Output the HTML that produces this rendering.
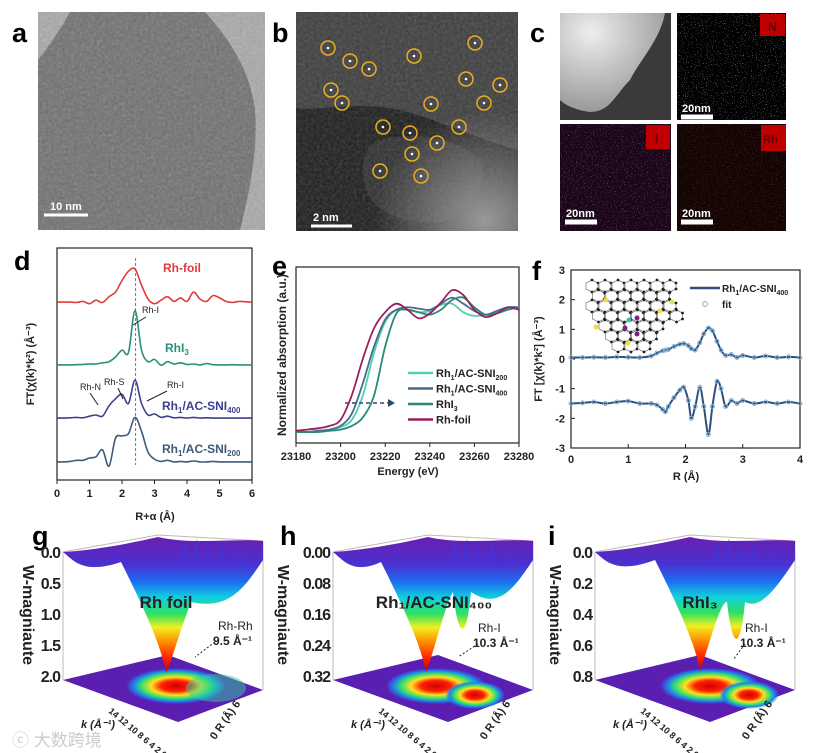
<!DOCTYPE html>
<html><head><meta charset="utf-8"><style>
html,body{margin:0;padding:0;background:#fff;}
svg{display:block;font-family:"Liberation Sans",Arial,sans-serif;}
.t{font-size:11px;font-weight:bold;fill:#222;}
.L{font-size:27px;font-weight:bold;fill:#000;}
</style></head><body>
<svg id="fig" width="814" height="753" viewBox="0 0 814 753" xmlns="http://www.w3.org/2000/svg">
<defs>
<filter id="noise" x="0" y="0" width="100%" height="100%"><feTurbulence type="fractalNoise" baseFrequency="0.35" numOctaves="2" seed="3"/><feColorMatrix type="saturate" values="0"/></filter>
<filter id="speck" x="0" y="0" width="100%" height="100%"><feTurbulence type="fractalNoise" baseFrequency="0.9" numOctaves="1" seed="7"/><feColorMatrix type="matrix" values="0 0 0 0 1  0 0 0 0 1  0 0 0 0 1  0 0 0 9 -5.6"/></filter>
<linearGradient id="rain" x1="0" y1="0" x2="0" y2="1">
<stop offset="0" stop-color="#6a1fb0"/><stop offset="0.2" stop-color="#4a30d0"/><stop offset="0.33" stop-color="#1e6cf0"/><stop offset="0.45" stop-color="#10d0e0"/><stop offset="0.57" stop-color="#30e060"/><stop offset="0.67" stop-color="#f0f020"/><stop offset="0.78" stop-color="#ff8a00"/><stop offset="0.9" stop-color="#ff2000"/><stop offset="1" stop-color="#c00000"/></linearGradient>
<radialGradient id="heat"><stop offset="0" stop-color="#d00000"/><stop offset="0.3" stop-color="#ff2000"/><stop offset="0.5" stop-color="#ffe020"/><stop offset="0.7" stop-color="#30e070"/><stop offset="0.85" stop-color="#2080f0"/><stop offset="1" stop-color="#2080f0" stop-opacity="0"/></radialGradient>
<radialGradient id="bglow" cx="0.85" cy="0.95" r="0.5"><stop offset="0" stop-color="#999"/><stop offset="1" stop-color="#999" stop-opacity="0"/></radialGradient>
<radialGradient id="cglow" cx="0.3" cy="0.2" r="0.8"><stop offset="0" stop-color="#eee"/><stop offset="0.6" stop-color="#bbb"/><stop offset="1" stop-color="#999"/></radialGradient>
</defs>

<!-- panel a -->
<g>
<rect x="38" y="12" width="227" height="218" fill="#a8a8a8"/>
<path d="M70,12 L205,12 C230,40 250,70 255,110 C258,150 250,190 240,230 L38,230 L38,60 C50,45 60,30 70,12Z" fill="#6e6e6e"/>
<rect x="38" y="12" width="227" height="218" filter="url(#noise)" opacity="0.35"/>
<line x1="44" y1="215" x2="88" y2="215" stroke="#fff" stroke-width="3"/>
<text x="50" y="210" style="font-size:11px;font-weight:bold;fill:#fff">10 nm</text>
</g>
<text class="L" x="12" y="42">a</text>

<!-- panel b -->
<g>
<rect x="296" y="12" width="222" height="219" fill="#1c1c1c"/>
<path d="M296,12 H518 V150 C480,140 440,120 400,110 C350,100 320,112 296,108Z" fill="#3c3c3c"/>
<path d="M380,140 C420,130 460,140 480,160 C490,190 470,215 440,222 C400,225 370,210 365,185 C360,160 365,145 380,140Z" fill="#2e2e2e"/>
<rect x="296" y="12" width="222" height="219" filter="url(#noise)" opacity="0.25"/>
<rect x="296" y="12" width="222" height="219" fill="url(#bglow)"/>
<line x1="311" y1="226" x2="352" y2="226" stroke="#fff" stroke-width="3"/>
<text x="313" y="221" style="font-size:11px;font-weight:bold;fill:#fff">2 nm</text>
<g id="circles" fill="none" stroke="#e8b020" stroke-width="1.5"></g>
</g>
<text class="L" x="272" y="42">b</text>

<!-- panel c -->
<g>
<rect x="560" y="13" width="111" height="107" fill="#3a3a3a"/>
<path d="M560,13 H665 C660,40 640,60 630,80 C615,95 610,112 590,112 C575,110 565,105 560,100Z" fill="url(#cglow)"/>
<rect x="677" y="13" width="109" height="107" fill="#000"/>
<rect x="677" y="13" width="109" height="107" filter="url(#speck)" opacity="0.45"/>
<rect x="760" y="14" width="25" height="22" fill="#c00000"/><text x="768" y="31" style="font-size:12px;font-weight:bold;fill:#600">N</text>
<line x1="681" y1="117" x2="713" y2="117" stroke="#fff" stroke-width="5"/><text x="682" y="112" style="font-size:11px;font-weight:bold;fill:#fff">20nm</text>
<rect x="560" y="124" width="111" height="107" fill="#000"/>
<rect x="560" y="124" width="111" height="107" filter="url(#speck)" opacity="0.35"/>
<rect x="560" y="124" width="111" height="107" fill="#b020b0" opacity="0.15"/>
<rect x="646" y="125" width="24" height="24" fill="#c00000"/><text x="655" y="143" style="font-size:12px;font-weight:bold;fill:#600">I</text>
<line x1="565" y1="222" x2="597" y2="222" stroke="#fff" stroke-width="5"/><text x="566" y="217" style="font-size:11px;font-weight:bold;fill:#fff">20nm</text>
<rect x="677" y="124" width="109" height="107" fill="#000"/>
<rect x="677" y="124" width="109" height="107" filter="url(#speck)" opacity="0.2"/>
<rect x="677" y="124" width="109" height="107" fill="#c03020" opacity="0.1"/>
<rect x="761" y="125" width="25" height="26" fill="#c00000"/><text x="763" y="143" style="font-size:11px;font-weight:bold;fill:#600">Rh</text>
<line x1="681" y1="222" x2="713" y2="222" stroke="#fff" stroke-width="5"/><text x="682" y="217" style="font-size:11px;font-weight:bold;fill:#fff">20nm</text>
</g>
<text class="L" x="530" y="42">c</text>

<text class="L" x="14" y="270">d</text>
<text class="L" x="272" y="275">e</text>
<text class="L" x="532" y="280">f</text>
<text class="L" x="32" y="545">g</text>
<text class="L" x="280" y="545">h</text>
<text class="L" x="548" y="545">i</text>

<g id="chartD"></g>
<g id="chartE"></g>
<g id="chartF"></g>
<g id="wt"></g>

<text x="12" y="746" style="font-size:17px;fill:#ccc;font-family:'Liberation Sans','Noto Sans CJK SC',sans-serif">ⓒ 大数跨境</text>
</svg>
<script>
const circleX=[328,350,369,414,475,331,342,466,500,431,484,383,459,410,437,412,380,421];
const circleY=[48,61,69,56,43,90,103,79,85,104,103,127,127,133,143,154,171,176];

const dR=[0,0.2,0.4,0.6,0.8,1,1.2,1.4,1.6,1.8,2,2.2,2.4,2.6,2.8,3,3.2,3.4,3.6,3.8,4,4.2,4.4,4.6,4.8,5,5.2,5.4,5.6,5.8,6];
const dFoil=[7.67,7.67,7.67,7.65,7.7,7.6,7.75,7.65,7.9,8.1,8.6,9.0,9.1,8.4,7.8,7.6,7.75,7.9,7.7,7.85,7.7,8.1,7.8,7.7,7.95,7.85,7.7,7.65,7.7,7.68,7.67];
const dRhI3=[4.96,4.96,4.96,4.97,4.98,5.0,5.0,5.05,5.1,5.3,5.6,5.5,7.3,5.6,5.1,5.2,4.95,5.1,5.0,5.05,4.98,5.0,4.96,5.02,4.97,4.96,4.96,4.97,4.96,4.96,4.96];
const dSNI400=[2.67,2.67,2.68,2.7,2.68,2.75,2.8,2.75,3.2,3.5,3.7,3.3,4.3,3.3,2.8,2.85,2.7,2.75,2.68,2.7,2.67,2.7,2.67,2.68,2.67,2.67,2.67,2.67,2.67,2.67,2.67];
const dSNI200=[0.78,0.78,0.8,0.85,0.85,0.95,1.0,1.3,0.6,1.8,1.9,2.0,2.7,2.1,1.2,0.9,0.8,0.85,0.78,0.8,0.78,0.82,0.78,0.78,0.8,0.78,0.78,0.78,0.78,0.78,0.78];
const dTicks=[0,1,2,3,4,5,6];

const eE=[23180,23185,23190,23195,23200,23205,23210,23215,23220,23225,23230,23235,23240,23245,23250,23255,23260,23265,23270,23275,23280];
const eSNI200=[0,0,0.01,0.02,0.04,0.1,0.3,0.65,0.9,1.0,1.0,0.98,0.99,1.04,1.05,0.98,0.95,0.96,0.98,1.01,1.02];
const eSNI400=[0,0,0.01,0.02,0.05,0.15,0.4,0.7,0.92,1.0,1.02,1.01,1.0,1.05,1.1,1.05,0.99,0.96,0.99,1.02,1.02];
const eRhI3=[0,0,0,0.01,0.02,0.05,0.12,0.3,0.7,0.97,1.0,0.98,0.96,1.0,1.08,1.1,1.02,0.96,0.97,1.0,1.02];
const eFoil=[0.01,0.02,0.03,0.05,0.1,0.3,0.6,0.85,0.98,1.05,1.0,0.93,0.97,1.06,1.16,1.12,1.0,0.94,0.97,1.02,1.0];
const eTicks=[23180,23200,23220,23240,23260,23280];

const fR=[0,0.2,0.4,0.6,0.8,1,1.2,1.4,1.5,1.6,1.65,1.7,1.8,1.9,1.97,2.05,2.1,2.17,2.25,2.32,2.4,2.47,2.55,2.62,2.7,2.8,2.9,3,3.2,3.4,3.6,3.8,4];
const fTop=[0.05,0.05,0.06,0.05,0.07,0.06,0.05,0.1,0.2,0.28,0.3,0.32,0.42,0.5,0.52,0.45,0.35,0.3,0.55,0.85,1.05,0.95,0.6,0.3,0.12,0.15,0.05,0.12,0.05,0.1,0.05,0.07,0.05];
const fBot=[-1.5,-1.48,-1.45,-1.5,-1.45,-1.42,-1.5,-1.5,-1.55,-1.7,-1.78,-1.6,-1.3,-1.05,-0.95,-1.4,-2.0,-1.6,-0.95,-1.6,-2.55,-1.6,-0.75,-1.0,-1.6,-1.4,-1.5,-1.4,-1.5,-1.45,-1.5,-1.45,-1.5];
const fXTicks=[0,1,2,3,4];
const fYTicks=[3,2,1,0,-1,-2,-3];

const NS='http://www.w3.org/2000/svg';
function mk(tag,attrs,parent,txt){const e=document.createElementNS(NS,tag);for(const k in attrs)e.setAttribute(k,attrs[k]);if(txt!==undefined)e.textContent=txt;parent.appendChild(e);return e;}
function lin(d0,d1,r0,r1){return v=>r0+(v-d0)/(d1-d0)*(r1-r0);}
function smooth(pts){let d='M'+pts[0][0].toFixed(1)+','+pts[0][1].toFixed(1);for(let i=0;i<pts.length-1;i++){const p0=pts[i-1]||pts[i],p1=pts[i],p2=pts[i+1],p3=pts[i+2]||p2;const c1=[p1[0]+(p2[0]-p0[0])/6,p1[1]+(p2[1]-p0[1])/6],c2=[p2[0]-(p3[0]-p1[0])/6,p2[1]-(p3[1]-p1[1])/6];d+='C'+c1.map(v=>v.toFixed(1))+' '+c2.map(v=>v.toFixed(1))+' '+p2.map(v=>v.toFixed(1));}return d;}

const cg=document.getElementById('circles');
circleX.forEach((x,i)=>{const c=mk('circle',{cx:x,cy:circleY[i],r:7},cg);


mk('circle',{cx:x,cy:circleY[i],r:1.3,fill:'#fff',stroke:'none'},cg);});

(function(){
const g=document.getElementById('chartD');
const X=lin(0,6,57,252),Y=lin(0,10,480,248);
mk('rect',{x:57,y:248,width:195,height:232,fill:'none',stroke:'#222','stroke-width':1.2},g);
dTicks.forEach(t=>{mk('line',{x1:X(t),x2:X(t),y1:480,y2:484,stroke:'#222'},g);const tx=mk('text',{x:X(t),y:497,'text-anchor':'middle',class:'t'},g,t);});
mk('text',{x:155,y:520,'text-anchor':'middle',class:'t'},g,'R+α (Å)');
const yt=mk('text',{x:0,y:0,transform:'translate(34,364) rotate(-90)','text-anchor':'middle',class:'t'},g,'FT(χ(k)*k²) (Å⁻³)');
mk('line',{x1:X(2.42),x2:X(2.42),y1:258,y2:465,stroke:'#555','stroke-dasharray':'3,2','stroke-width':0.8},g);
const series=[[dFoil,'#e03a3a','rh-foil'],[dRhI3,'#2a8f7a','rhi3'],[dSNI400,'#3a3f8f','sni400'],[dSNI200,'#3d5a78','sni200']];
series.forEach(s=>{const p=mk('path',{d:smooth(dR.map((r,i)=>[X(r),Y(s[0][i])])),fill:'none',stroke:s[1],'stroke-width':1.6},g);});
const st='font-weight:bold;font-size:12px;';
mk('text',{x:163,y:272,style:st+'fill:#e03a3a'},g,'Rh-foil');
mk('text',{x:165,y:352,style:st+'fill:#2a8f7a'},g).innerHTML='RhI<tspan dy="3" style="font-size:8px">3</tspan>';
mk('text',{x:162,y:410,style:st+'fill:#3a3f8f'},g).innerHTML='Rh<tspan dy="3" style="font-size:8px">1</tspan><tspan dy="-3">/AC-SNI</tspan><tspan dy="3" style="font-size:8px">400</tspan>';
mk('text',{x:162,y:453,style:st+'fill:#3d5a78'},g).innerHTML='Rh<tspan dy="3" style="font-size:8px">1</tspan><tspan dy="-3">/AC-SNI</tspan><tspan dy="3" style="font-size:8px">200</tspan>';
const sm='font-size:9px;fill:#222;';
mk('text',{x:142,y:313,style:sm},g,'Rh-I');mk('line',{x1:146,y1:317,x2:133,y2:325,stroke:'#222'},g);
mk('text',{x:104,y:385,style:sm},g,'Rh-S');mk('line',{x1:118,y1:388,x2:123,y2:399,stroke:'#222'},g);
mk('text',{x:80,y:390,style:sm},g,'Rh-N');mk('line',{x1:90,y1:393,x2:98,y2:405,stroke:'#222'},g);
mk('text',{x:167,y:388,style:sm},g,'Rh-I');mk('line',{x1:167,y1:391,x2:147,y2:401,stroke:'#222'},g);
})();

(function(){
const g=document.getElementById('chartE');
const X=lin(23180,23280,296,519),Y=lin(-0.09,1.35,443,267);
mk('rect',{x:296,y:267,width:223,height:176,fill:'none',stroke:'#222','stroke-width':1.2},g);
eTicks.forEach(t=>{mk('line',{x1:X(t),x2:X(t),y1:443,y2:447,stroke:'#222'},g);const tx=mk('text',{x:X(t),y:460,'text-anchor':'middle',class:'t'},g,t);});
mk('text',{x:408,y:475,'text-anchor':'middle',class:'t'},g,'Energy (eV)');
mk('text',{x:0,y:0,transform:'translate(286,355) rotate(-90)','text-anchor':'middle',style:'font-size:12px;font-weight:bold;fill:#222'},g,'Normalized absorption (a.u.)');
const series=[[eSNI200,'#4fd1b5','sni200'],[eSNI400,'#4a6a8c','sni400'],[eRhI3,'#2a8a78','rhi3'],[eFoil,'#9b1f5f','rh-foil']];
series.forEach(s=>{const p=mk('path',{d:smooth(eE.map((e,i)=>[X(e),Y(s[0][i])])),fill:'none',stroke:s[1],'stroke-width':1.8},g);});
mk('line',{x1:345,y1:403,x2:388,y2:403,stroke:'#2d4a6a','stroke-width':1.5,'stroke-dasharray':'4,3'},g);
mk('path',{d:'M388,399 L395,403 L388,407Z',fill:'#2d4a6a'},g);
const labs=['Rh<tspan dy="3" style="font-size:7px">1</tspan><tspan dy="-3">/AC-SNI</tspan><tspan dy="3" style="font-size:7px">200</tspan>','Rh<tspan dy="3" style="font-size:7px">1</tspan><tspan dy="-3">/AC-SNI</tspan><tspan dy="3" style="font-size:7px">400</tspan>','RhI<tspan dy="3" style="font-size:7px">3</tspan>','Rh-foil'];
labs.forEach((l,i)=>{const y=373+i*15.5;const it=mk('g',{},g);mk('line',{x1:408,x2:433,y1:y,y2:y,stroke:series[i][1],'stroke-width':2.5},it);mk('text',{x:436,y:y+4,style:'font-size:11px;font-weight:bold;fill:#222'},it).innerHTML=l;});
})();

(function(){
const g=document.getElementById('chartF');
const X=lin(0,4,571,800),Y=lin(-3,3,448,270);
mk('rect',{x:571,y:270,width:229,height:178,fill:'none',stroke:'#222','stroke-width':1.2},g);
fXTicks.forEach(t=>{mk('line',{x1:X(t),x2:X(t),y1:448,y2:444,stroke:'#222'},g);mk('text',{x:X(t),y:463,'text-anchor':'middle',class:'t'},g,t);});
fYTicks.forEach(t=>{mk('line',{x1:571,x2:575,y1:Y(t),y2:Y(t),stroke:'#222'},g);mk('text',{x:565,y:Y(t)+4,'text-anchor':'end',class:'t'},g,t);});
mk('text',{x:686,y:480,'text-anchor':'middle',class:'t'},g,'R (Å)');
mk('text',{x:0,y:0,transform:'translate(542,359) rotate(-90)','text-anchor':'middle',class:'t'},g,'FT [χ(k)*k²] (Å⁻³)');
[fTop,fBot].forEach((s,k)=>{const p=mk('path',{d:smooth(fR.map((r,i)=>[X(r),Y(s[i])])),fill:'none',stroke:'#2f4f7f','stroke-width':2},g);
fR.forEach((r,i)=>{const c=mk('circle',{cx:X(r),cy:Y(s[i]),r:2,fill:'none',stroke:'#7fb0d8','stroke-width':1},g);});});
const lg=mk('g',{},g);
mk('line',{x1:690,x2:720,y1:288,y2:288,stroke:'#2f4f7f','stroke-width':2.5},lg);
mk('text',{x:722,y:292,style:'font-size:10px;font-weight:bold;fill:#222'},lg).innerHTML='Rh<tspan dy="3" style="font-size:7px">1</tspan><tspan dy="-3">/AC-SNI</tspan><tspan dy="3" style="font-size:7px">400</tspan>';
mk('circle',{cx:705,cy:304,r:2.5,fill:'none',stroke:'#7fb0d8'},lg);
mk('text',{x:722,y:308,style:'font-size:10px;font-weight:bold;fill:#222'},lg,'fit');
const ig=mk('g',{},g);
for(let r=0;r<7;r++)for(let c=0;c<7;c++){const cx=592+c*13+(r%2)*6.5,cy=286+r*10;if(cx>670&&cy<300)continue;if((cx-592)+(cy-286)>115)continue;if((cy-286)-(cx-592)>35)continue;
mk('path',{d:`M${cx},${cy-6} L${cx+6},${cy-3} L${cx+6},${cy+3} L${cx},${cy+6} L${cx-6},${cy+3} L${cx-6},${cy-3}Z`,fill:'none',stroke:'#777','stroke-width':0.7},ig);
[[0,-6],[6,-3],[6,3],[0,6]].forEach(o=>mk('circle',{cx:cx+o[0],cy:cy+o[1],r:1.4,fill:'#222'},ig));}
[[606,300],[660,311],[596,327],[628,343],[672,302]].forEach(p=>mk('circle',{cx:p[0],cy:p[1],r:2.5,fill:'#e8e040'},ig));
[[637,318],[637,334],[625,328]].forEach(p=>mk('circle',{cx:p[0],cy:p[1],r:2.5,fill:'#802080'},ig));
mk('circle',{cx:629,cy:320,r:2.5,fill:'#30c0c0'},ig);
})();

(function(){
const g=document.getElementById('wt');
const panels=[
 {ax:63,tip:[166,672],tip2:null,ticks:['0.0','0.5','1.0','1.5','2.0'],label:'Rh foil',ann:['Rh-Rh','9.5 Å⁻¹'],annX:218,annY:630,arrow:[[215,642],[195,657]]},
 {ax:333,tip:[426,672],tip2:[463,642],ticks:['0.00','0.08','0.16','0.24','0.32'],label:'Rh₁/AC-SNI₄₀₀',ann:['Rh-I','10.3 Å⁻¹'],annX:478,annY:632,arrow:[[478,644],[458,657]]},
 {ax:595,tip:[700,670],tip2:[737,652],ticks:['0.0','0.2','0.4','0.6','0.8'],label:'RhI₃',ann:['Rh-I','10.3 Å⁻¹'],annX:745,annY:632,arrow:[[745,644],[733,660]]}
];
panels.forEach((p,k)=>{
 const pg=mk('g',{},g);
 const a=p.ax,w=200;
 mk('path',{d:`M${a},552 L${a+95},535 L${a+w},541 M${a},552 L${a},680 M${a+w},541 L${a+w},690`,fill:'none',stroke:'#bbb','stroke-width':1},pg);
 mk('path',{d:`M${a},680 L${a+105},655 L${a+w},690 L${a+115},722Z`,fill:'#5a1fb0'},pg);
 mk('ellipse',{cx:p.tip[0]+10,cy:686,rx:50,ry:18,fill:'url(#heat)'},pg);
 if(p.tip2)mk('ellipse',{cx:p.tip2[0]+12,cy:695,rx:30,ry:14,fill:'url(#heat)'},pg);
 else mk('ellipse',{cx:p.tip[0]+50,cy:688,rx:30,ry:14,fill:'#30d0a0',opacity:0.5},pg);
 const t=p.tip;let d=`M${a},552 C${a+30},550 ${a+60},545 ${a+95},537 C${a+130},545 ${a+170},538 ${a+w},541 L${a+w},560 C${a+180},590 ${a+165},610 `;
 if(p.tip2){const t2=p.tip2;d+=`${t2[0]+8},${t2[1]-50} C${t2[0]+4},${t2[1]-5} ${t2[0]-4},${t2[1]+3} ${t2[0]-10},${t2[1]-50} C${t[0]+20},${t[1]-70} ${t[0]+5},${t[1]-10} ${t[0]},${t[1]}`;}
 else d+=`${t[0]+25},${t[1]-70} C${t[0]+10},${t[1]-30} ${t[0]+4},${t[1]-5} ${t[0]},${t[1]}`;
 d+=` C${t[0]-6},${t[1]-30} ${t[0]-25},${t[1]-70} ${t[0]-45},${t[1]-110} C${a+20},575 ${a+10},560 ${a},552Z`;
 mk('path',{d:d,fill:'url(#rain)'},pg);
 mk('path',{d:`M${a+115},562 l8,-20 l5,22 l6,-25 l5,25 l6,-18 l6,20 l8,-22 l6,24 l10,-15 l10,10Z`,fill:'#4a30d0'},pg);
 p.ticks.forEach((s,i)=>mk('text',{x:a-3,y:558+i*31,'text-anchor':'end',style:'font-size:16px;font-weight:bold;fill:#222;letter-spacing:-1px'},pg,s));
 mk('text',{x:0,y:0,transform:`translate(${a-(k===0?40:k===1?55:45)},615) rotate(90)`,'text-anchor':'middle',style:'font-size:16px;font-weight:bold;fill:#222'},pg,'W-magniaute');
 mk('text',{x:t[0]+(k===1?8:0),y:608,'text-anchor':'middle',style:'font-size:17px;font-weight:bold;fill:#222'},pg,p.label);
 mk('text',{x:p.annX,y:p.annY,style:'font-size:12px;fill:#222'},pg,p.ann[0]);
 mk('text',{x:p.annX-5,y:p.annY+15,style:'font-size:12px;font-weight:bold;fill:#222'},pg,p.ann[1]);
 mk('line',{x1:p.arrow[0][0],y1:p.arrow[0][1],x2:p.arrow[1][0],y2:p.arrow[1][1],stroke:'#222','stroke-dasharray':'2,2'},pg);
 mk('text',{x:0,y:0,transform:`translate(${a+45},712) rotate(40)`,'text-anchor':'start',style:'font-size:9px;font-weight:bold;fill:#222'},pg,'14 12 10 8 6 4 2 0');
 mk('text',{x:a+18,y:728,style:'font-size:11px;font-weight:bold;font-style:italic;fill:#222'},pg,'k (Å⁻¹)');
 mk('text',{x:0,y:0,transform:`translate(${a+165},722) rotate(-55)`,'text-anchor':'middle',style:'font-size:11px;font-weight:bold;fill:#222'},pg,'0  R (Å)  6');
});
})();
</script>
</body></html>
